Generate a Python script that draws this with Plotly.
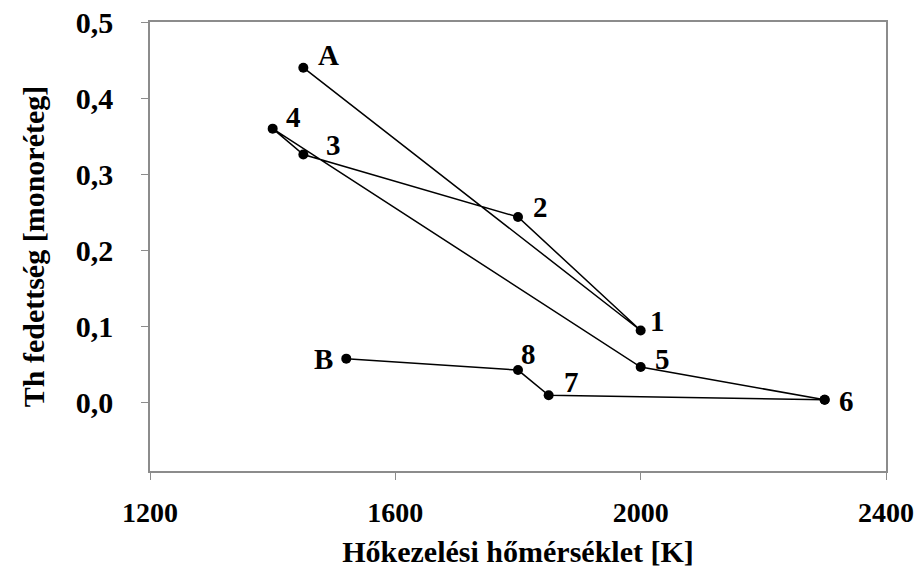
import plotly.graph_objects as go

# Series 1: A -> 1 -> 2 -> 3 -> 4 -> 5 -> 6
s1_labels = ["A", "1", "2", "3", "4", "5", "6"]
s1_x = [1450, 2000, 1800, 1450, 1400, 2000, 2300]
s1_y = [0.440, 0.095, 0.244, 0.326, 0.360, 0.047, 0.004]

# Series 2: B -> 8 -> 7 -> 6
s2_labels = ["B", "8", "7", "6"]
s2_x = [1520, 1800, 1850, 2300]
s2_y = [0.058, 0.043, 0.010, 0.004]

x_ticks = [1200, 1600, 2000, 2400]
y_ticks = [0.0, 0.1, 0.2, 0.3, 0.4, 0.5]

FONT = "'Times New Roman', 'Liberation Serif', serif"

fig = go.Figure()
for xs, ys in [(s1_x, s1_y), (s2_x, s2_y)]:
    fig.add_trace(go.Scatter(
        x=xs, y=ys, mode="lines+markers",
        line=dict(color="black", width=1.5),
        marker=dict(color="black", size=10),
        showlegend=False, hoverinfo="skip",
    ))

# label offsets (pixels) per point label
offsets = {
    "A": (25, 13), "1": (17, 9), "2": (22, 10), "3": (30, 10), "4": (21, 12),
    "5": (22, 8), "6": (22, -1), "B": (-23, 0), "8": (10, 16), "7": (23, 13),
}
seen = set()
for labs, xs, ys in [(s1_labels, s1_x, s1_y), (s2_labels, s2_x, s2_y)]:
    for lab, xv, yv in zip(labs, xs, ys):
        if lab in seen:
            continue
        seen.add(lab)
        dx, dy = offsets[lab]
        fig.add_annotation(
            x=xv, y=yv, text=f"<b>{lab}</b>", showarrow=False,
            xshift=dx, yshift=dy,
            font=dict(family=FONT, size=29, color="black"),
        )

axis_common = dict(
    showline=True, linecolor="#8c8c8c", linewidth=1.5, mirror=True,
    ticks="outside", ticklen=7, tickcolor="#8c8c8c", tickwidth=1.2,
    showgrid=False, zeroline=False, automargin=False,
)

fig.update_xaxes(
    range=[1200, 2400], tickvals=x_ticks,
    ticktext=[f"<b>{v}</b>" for v in x_ticks],
    ticklabelstandoff=9,
    tickfont=dict(family=FONT, size=28, color="black"),
    title=dict(text="<b>Hőkezelési hőmérséklet [K]</b>", standoff=14,
               font=dict(family=FONT, size=30, color="black")),
    **axis_common,
)
fig.update_yaxes(
    range=[-0.0895, 0.5], tickvals=y_ticks,
    ticktext=[f"<b>{v:.1f}</b>".replace(".", ",") for v in y_ticks],
    ticklabelstandoff=22,
    tickfont=dict(family=FONT, size=30, color="black"),
    title=dict(text="<b>Th fedettség [monoréteg]</b>", standoff=22,
               font=dict(family=FONT, size=30, color="black")),
    **axis_common,
)

fig.update_layout(
    width=918, height=581,
    margin=dict(l=150, r=32, t=22, b=110),
    plot_bgcolor="white", paper_bgcolor="white",
    font=dict(family=FONT, color="black"),
)

fig.write_html("out.html")
